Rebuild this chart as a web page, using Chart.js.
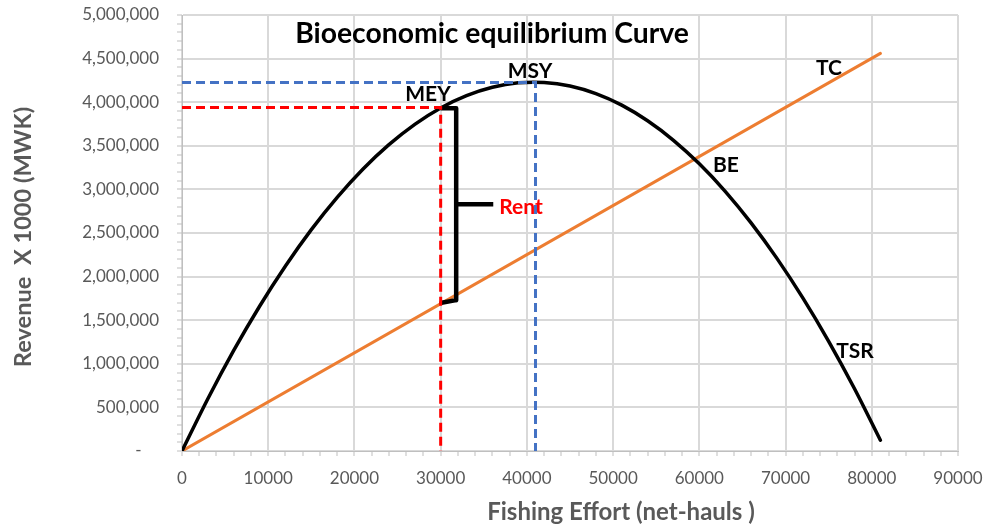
<!DOCTYPE html>
<html>
<head>
<meta charset="utf-8">
<script src="https://cdn.jsdelivr.net/npm/chart.js@4.4.1/dist/chart.umd.min.js"></script>
<style>
  body { margin: 0; background: #fff; }
  #wrap { width: 984px; height: 527px; position: relative; }
</style>
</head>
<body>
<div id="wrap"><canvas id="myChart"></canvas></div>
<script>
// fishing effort (net-hauls) and total sustainable revenue (x1000 MWK)
const effort = [0, 3000, 6000, 9000, 12000, 15000, 18000, 21000, 24000, 27000, 30000, 33000, 36000, 39000,
  42000, 45000, 48000, 51000, 54000, 57000, 60000, 63000, 66000, 69000, 72000, 75000, 78000, 81000];
const tsr = [0, 599000, 1153000, 1660000, 2122000, 2539000, 2909000, 3234000, 3513000, 3746000, 3934000, 4075000, 4171000, 4222000,
  4226000, 4185000, 4098000, 3966000, 3787000, 3563000, 3293000, 2978000, 2616000, 2209000, 1756000, 1258000, 714000, 124000];

// total cost line
const tcEffort = [0, 81000];
const tcRevenue = [0, 4560000];

// MSY and MEY reference points
const msyEffort = 41000;
const msyRevenue = 4225000;
const meyEffort = 30000;
const meyRevenue = 3940000;

// rent bracket
const rentEffort = [30100, 31800, 31800, 30100];
const rentRevenue = [3930000, 3930000, 1730000, 1700000];
const rentTickEffort = [31800, 36100];
const rentTickRevenue = [2830000, 2830000];

// labels placed on the chart (data coordinates)
const labelText = ['MEY', 'MSY', 'TC', 'BE', 'TSR'];
const labelEffort = [28530, 40360, 75040, 63090, 78060];
const labelRevenue = [4094000, 4358000, 4392000, 3280000, 1147000];

const xTicks = [0, 10000, 20000, 30000, 40000, 50000, 60000, 70000, 80000, 90000];
const yTicks = [0, 500000, 1000000, 1500000, 2000000, 2500000, 3000000, 3500000, 4000000, 4500000, 5000000];

const pts = (xs, ys) => xs.map((x, i) => ({ x: x, y: ys[i] }));

function fitFont(ctx, text, width, family) {
  ctx.font = 'bold 20px ' + family;
  const s = 20 * width / ctx.measureText(text).width;
  return 'bold ' + s.toFixed(1) + 'px ' + family;
}

const textPlugin = {
  id: 'textPlugin',
  afterDraw(chart) {
    const ctx = chart.ctx;
    const x = chart.scales.x;
    const y = chart.scales.y;
    ctx.save();
    ctx.textAlign = 'center';
    ctx.textBaseline = 'middle';
    ctx.fillStyle = '#000';
    ctx.font = 'bold 21px Lato';
    labelText.forEach((t, i) => {
      ctx.fillText(t, x.getPixelForValue(labelEffort[i]), y.getPixelForValue(labelRevenue[i]));
    });

    ctx.fillStyle = '#ff0000';
    ctx.font = 'bold 21px Lato';
    ctx.fillText('Rent', x.getPixelForValue(39320), y.getPixelForValue(2798000));

    // chart title
    ctx.textBaseline = 'alphabetic';
    ctx.fillStyle = '#000';
    const title = 'Bioeconomic equilibrium Curve';
    ctx.font = fitFont(ctx, title, 394, 'Lato');
    ctx.fillText(title, 492, 42.5);

    // axis titles
    ctx.fillStyle = '#595959';
    const xt = 'Fishing Effort (net-hauls )';
    ctx.font = fitFont(ctx, xt, 268, 'Lato');
    ctx.fillText(xt, 621, 520);

    const yt = 'Revenue  X 1000 (MWK)';
    ctx.font = fitFont(ctx, yt, 260, 'Lato');
    ctx.translate(31, 237);
    ctx.rotate(-Math.PI / 2);
    ctx.fillText(yt, 0, 0);
    ctx.restore();
  }
};

const ctx = document.getElementById('myChart').getContext('2d');

const chart = new Chart(ctx, {
  type: 'scatter',
  data: {
    datasets: [
      {
        label: 'MSY',
        data: pts([0, msyEffort, msyEffort], [msyRevenue, msyRevenue, 0]),
        showLine: true,
        borderColor: '#4472c4',
        borderWidth: 3,
        borderDash: [9, 5],
        pointRadius: 0
      },
      {
        label: 'MEY',
        data: pts([0, meyEffort, meyEffort], [meyRevenue, meyRevenue, 0]),
        showLine: true,
        borderColor: '#ff0000',
        borderWidth: 3,
        borderDash: [9, 5],
        pointRadius: 0
      },
      {
        label: 'Rent',
        data: pts(rentEffort, rentRevenue),
        showLine: true,
        borderColor: '#000',
        borderWidth: 4.5,
        borderJoinStyle: 'round',
        borderCapStyle: 'round',
        pointRadius: 0
      },
      {
        label: 'Rent tick',
        data: pts(rentTickEffort, rentTickRevenue),
        showLine: true,
        borderColor: '#000',
        borderWidth: 4.5,
        pointRadius: 0
      },
      {
        label: 'TSR',
        data: pts(effort, tsr),
        showLine: true,
        borderColor: '#000',
        borderWidth: 3.5,
        tension: 0.3,
        borderCapStyle: 'round',
        pointRadius: 0
      },
      {
        label: 'TC',
        data: pts(tcEffort, tcRevenue),
        showLine: true,
        borderColor: '#ed7d31',
        borderWidth: 3,
        borderCapStyle: 'round',
        pointRadius: 0
      }
    ]
  },
  options: {
    responsive: true,
    maintainAspectRatio: false,
    animation: false,
    layout: { padding: { left: 0, top: 15, right: 26, bottom: 0 } },
    plugins: {
      legend: { display: false },
      tooltip: { enabled: false },
      title: { display: false }
    },
    scales: {
      x: {
        type: 'linear',
        min: 0,
        max: 90000,
        afterFit: scale => {
          scale.height = 76;
          scale.paddingLeft = 0;
          scale.paddingRight = 0;
        },
        border: { color: '#bfbfbf', width: 1 },
        grid: {
          color: c => (c.tick && xTicks.includes(c.tick.value)) ? '#d9d9d9' : 'rgba(0,0,0,0)',
          lineWidth: 2,
          tickColor: '#bfbfbf',
          tickLength: 5,
          tickWidth: 1
        },
        ticks: {
          stepSize: 2000,
          autoSkip: false,
          maxRotation: 0,
          padding: 12,
          color: '#595959',
          font: { family: 'Lato', size: 17 },
          callback: v => xTicks.includes(v) ? String(v) : ''
        }
      },
      y: {
        min: 0,
        max: 5000000,
        afterFit: scale => {
          scale.width = 182;
          scale.paddingTop = 0;
          scale.paddingBottom = 0;
        },
        border: { color: '#bfbfbf', width: 1 },
        grid: {
          color: c => (c.tick && yTicks.includes(c.tick.value)) ? '#d9d9d9' : 'rgba(0,0,0,0)',
          lineWidth: 2,
          tickColor: '#bfbfbf',
          tickLength: 5,
          tickWidth: 1
        },
        ticks: {
          stepSize: 100000,
          autoSkip: false,
          padding: 18,
          color: '#595959',
          font: { family: 'Lato', size: 17 },
          callback: v => yTicks.includes(v) ? (v === 0 ? '-    ' : v.toLocaleString('en-US')) : ''
        }
      }
    }
  },
  plugins: [textPlugin]
});
</script>
</body>
</html>
